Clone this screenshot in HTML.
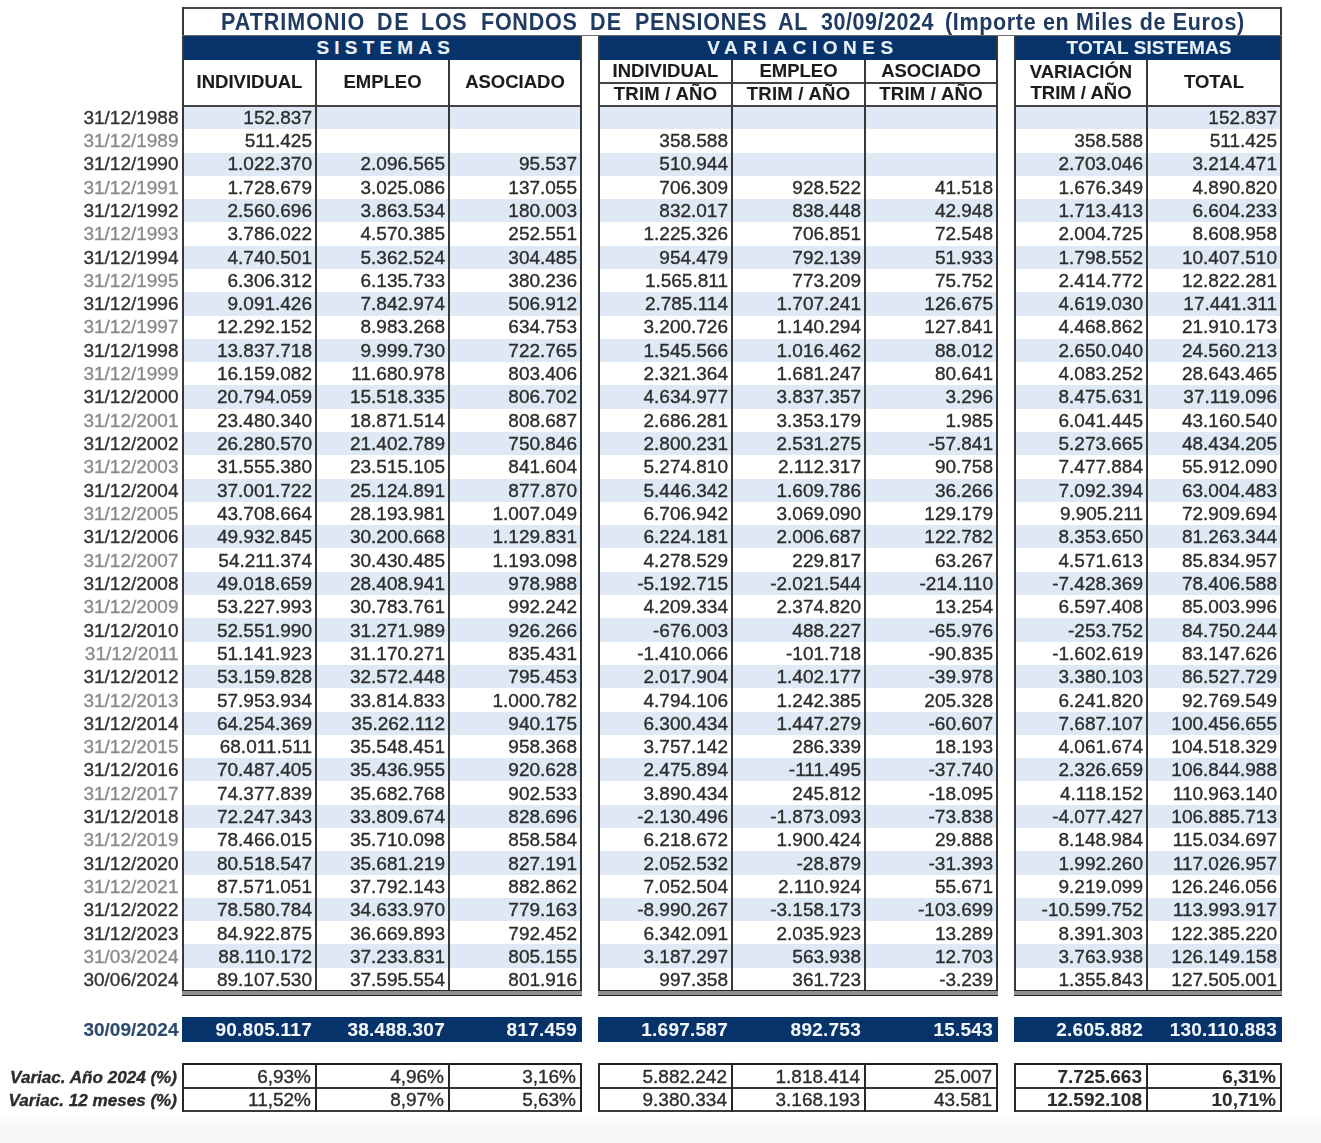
<!DOCTYPE html>
<html><head><meta charset="utf-8">
<style>
html,body{margin:0;padding:0;background:#fff;}
body{width:1321px;height:1143px;position:relative;overflow:hidden;font-family:"Liberation Sans",sans-serif;}
#w{position:absolute;left:0;top:0;width:1321px;height:1143px;filter:blur(0.4px);}
#w>div{position:absolute;box-sizing:border-box;-webkit-text-stroke:0.35px currentColor;}
</style></head><body><div id="w">
<div style="left:0px;top:1113px;width:1321px;height:30px;background:linear-gradient(rgba(247,247,247,0),#f7f7f7 45%)"></div>
<div style="left:182px;top:106.0px;width:400px;height:23.29px;background:#dee9f5"></div>
<div style="left:598px;top:106.0px;width:400px;height:23.29px;background:#dee9f5"></div>
<div style="left:1014px;top:106.0px;width:268px;height:23.29px;background:#dee9f5"></div>
<div style="left:182px;top:152.58px;width:400px;height:23.29px;background:#dee9f5"></div>
<div style="left:598px;top:152.58px;width:400px;height:23.29px;background:#dee9f5"></div>
<div style="left:1014px;top:152.58px;width:268px;height:23.29px;background:#dee9f5"></div>
<div style="left:182px;top:199.16px;width:400px;height:23.29px;background:#dee9f5"></div>
<div style="left:598px;top:199.16px;width:400px;height:23.29px;background:#dee9f5"></div>
<div style="left:1014px;top:199.16px;width:268px;height:23.29px;background:#dee9f5"></div>
<div style="left:182px;top:245.74px;width:400px;height:23.29px;background:#dee9f5"></div>
<div style="left:598px;top:245.74px;width:400px;height:23.29px;background:#dee9f5"></div>
<div style="left:1014px;top:245.74px;width:268px;height:23.29px;background:#dee9f5"></div>
<div style="left:182px;top:292.32px;width:400px;height:23.29px;background:#dee9f5"></div>
<div style="left:598px;top:292.32px;width:400px;height:23.29px;background:#dee9f5"></div>
<div style="left:1014px;top:292.32px;width:268px;height:23.29px;background:#dee9f5"></div>
<div style="left:182px;top:338.89px;width:400px;height:23.29px;background:#dee9f5"></div>
<div style="left:598px;top:338.89px;width:400px;height:23.29px;background:#dee9f5"></div>
<div style="left:1014px;top:338.89px;width:268px;height:23.29px;background:#dee9f5"></div>
<div style="left:182px;top:385.47px;width:400px;height:23.29px;background:#dee9f5"></div>
<div style="left:598px;top:385.47px;width:400px;height:23.29px;background:#dee9f5"></div>
<div style="left:1014px;top:385.47px;width:268px;height:23.29px;background:#dee9f5"></div>
<div style="left:182px;top:432.05px;width:400px;height:23.29px;background:#dee9f5"></div>
<div style="left:598px;top:432.05px;width:400px;height:23.29px;background:#dee9f5"></div>
<div style="left:1014px;top:432.05px;width:268px;height:23.29px;background:#dee9f5"></div>
<div style="left:182px;top:478.63px;width:400px;height:23.29px;background:#dee9f5"></div>
<div style="left:598px;top:478.63px;width:400px;height:23.29px;background:#dee9f5"></div>
<div style="left:1014px;top:478.63px;width:268px;height:23.29px;background:#dee9f5"></div>
<div style="left:182px;top:525.21px;width:400px;height:23.29px;background:#dee9f5"></div>
<div style="left:598px;top:525.21px;width:400px;height:23.29px;background:#dee9f5"></div>
<div style="left:1014px;top:525.21px;width:268px;height:23.29px;background:#dee9f5"></div>
<div style="left:182px;top:571.79px;width:400px;height:23.29px;background:#dee9f5"></div>
<div style="left:598px;top:571.79px;width:400px;height:23.29px;background:#dee9f5"></div>
<div style="left:1014px;top:571.79px;width:268px;height:23.29px;background:#dee9f5"></div>
<div style="left:182px;top:618.37px;width:400px;height:23.29px;background:#dee9f5"></div>
<div style="left:598px;top:618.37px;width:400px;height:23.29px;background:#dee9f5"></div>
<div style="left:1014px;top:618.37px;width:268px;height:23.29px;background:#dee9f5"></div>
<div style="left:182px;top:664.95px;width:400px;height:23.29px;background:#dee9f5"></div>
<div style="left:598px;top:664.95px;width:400px;height:23.29px;background:#dee9f5"></div>
<div style="left:1014px;top:664.95px;width:268px;height:23.29px;background:#dee9f5"></div>
<div style="left:182px;top:711.53px;width:400px;height:23.29px;background:#dee9f5"></div>
<div style="left:598px;top:711.53px;width:400px;height:23.29px;background:#dee9f5"></div>
<div style="left:1014px;top:711.53px;width:268px;height:23.29px;background:#dee9f5"></div>
<div style="left:182px;top:758.11px;width:400px;height:23.29px;background:#dee9f5"></div>
<div style="left:598px;top:758.11px;width:400px;height:23.29px;background:#dee9f5"></div>
<div style="left:1014px;top:758.11px;width:268px;height:23.29px;background:#dee9f5"></div>
<div style="left:182px;top:804.68px;width:400px;height:23.29px;background:#dee9f5"></div>
<div style="left:598px;top:804.68px;width:400px;height:23.29px;background:#dee9f5"></div>
<div style="left:1014px;top:804.68px;width:268px;height:23.29px;background:#dee9f5"></div>
<div style="left:182px;top:851.26px;width:400px;height:23.29px;background:#dee9f5"></div>
<div style="left:598px;top:851.26px;width:400px;height:23.29px;background:#dee9f5"></div>
<div style="left:1014px;top:851.26px;width:268px;height:23.29px;background:#dee9f5"></div>
<div style="left:182px;top:897.84px;width:400px;height:23.29px;background:#dee9f5"></div>
<div style="left:598px;top:897.84px;width:400px;height:23.29px;background:#dee9f5"></div>
<div style="left:1014px;top:897.84px;width:268px;height:23.29px;background:#dee9f5"></div>
<div style="left:182px;top:944.42px;width:400px;height:23.29px;background:#dee9f5"></div>
<div style="left:598px;top:944.42px;width:400px;height:23.29px;background:#dee9f5"></div>
<div style="left:1014px;top:944.42px;width:268px;height:23.29px;background:#dee9f5"></div>
<div style="left:182px;top:7px;width:1100px;height:2px;background:#4a4a4a"></div>
<div style="left:182px;top:7px;width:2px;height:29px;background:#383838"></div>
<div style="left:1280px;top:7px;width:2px;height:29px;background:#383838"></div>
<div style="left:182px;top:35px;width:1100px;height:1px;background:#6a6a6a"></div>
<div style="left:221.2px;top:7px;width:autopx;height:29px;width:auto;font-weight:bold;font-size:23px;letter-spacing:1.070px;line-height:31px;color:#1f3b62;white-space:nowrap;transform:scaleX(0.935);transform-origin:0 0;-webkit-text-stroke:0px">PATRIMONIO</div>
<div style="left:376.5px;top:7px;width:autopx;height:29px;width:auto;font-weight:bold;font-size:23px;letter-spacing:1.711px;line-height:31px;color:#1f3b62;white-space:nowrap;transform:scaleX(0.935);transform-origin:0 0;-webkit-text-stroke:0px">DE</div>
<div style="left:421.0px;top:7px;width:autopx;height:29px;width:auto;font-weight:bold;font-size:23px;letter-spacing:0.802px;line-height:31px;color:#1f3b62;white-space:nowrap;transform:scaleX(0.935);transform-origin:0 0;-webkit-text-stroke:0px">LOS</div>
<div style="left:480.5px;top:7px;width:autopx;height:29px;width:auto;font-weight:bold;font-size:23px;letter-spacing:0.802px;line-height:31px;color:#1f3b62;white-space:nowrap;transform:scaleX(0.935);transform-origin:0 0;-webkit-text-stroke:0px">FONDOS</div>
<div style="left:590.2px;top:7px;width:autopx;height:29px;width:auto;font-weight:bold;font-size:23px;letter-spacing:1.283px;line-height:31px;color:#1f3b62;white-space:nowrap;transform:scaleX(0.935);transform-origin:0 0;-webkit-text-stroke:0px">DE</div>
<div style="left:634.5px;top:7px;width:autopx;height:29px;width:auto;font-weight:bold;font-size:23px;letter-spacing:0.802px;line-height:31px;color:#1f3b62;white-space:nowrap;transform:scaleX(0.935);transform-origin:0 0;-webkit-text-stroke:0px">PENSIONES</div>
<div style="left:778.0px;top:7px;width:autopx;height:29px;width:auto;font-weight:bold;font-size:23px;letter-spacing:0.802px;line-height:31px;color:#1f3b62;white-space:nowrap;transform:scaleX(0.935);transform-origin:0 0;-webkit-text-stroke:0px">AL</div>
<div style="left:821.0px;top:7px;width:autopx;height:29px;width:auto;font-weight:bold;font-size:23px;letter-spacing:0.588px;line-height:31px;color:#1f3b62;white-space:nowrap;transform:scaleX(0.935);transform-origin:0 0;-webkit-text-stroke:0px">30/09/2024</div>
<div style="left:945.1px;top:7px;width:autopx;height:29px;width:auto;font-weight:bold;font-size:23px;letter-spacing:0.706px;line-height:31px;color:#1f3b62;white-space:nowrap;transform:scaleX(0.935);transform-origin:0 0;-webkit-text-stroke:0px">(Importe en Miles de Euros)</div>
<div style="left:182px;top:36px;width:400px;height:24px;background:#06336a;color:#e8f0fa;-webkit-text-stroke:0.1px currentColor;text-align:center;font-weight:bold;font-size:19px;letter-spacing:5.2px;text-indent:7.7px;line-height:24px;white-space:nowrap">SISTEMAS</div>
<div style="left:598px;top:36px;width:400px;height:24px;background:#06336a;color:#e8f0fa;-webkit-text-stroke:0.1px currentColor;text-align:center;font-weight:bold;font-size:19px;letter-spacing:5.55px;text-indent:10.05px;line-height:24px;white-space:nowrap">VARIACIONES</div>
<div style="left:1014px;top:36px;width:268px;height:24px;background:#06336a;color:#e8f0fa;-webkit-text-stroke:0.1px currentColor;text-align:center;font-weight:bold;font-size:19px;letter-spacing:0.1px;text-indent:2.1px;line-height:24px;white-space:nowrap">TOTAL SISTEMAS</div>
<div style="left:183px;top:59px;width:133px;height:46px;text-align:center;font-weight:bold;font-size:18.5px;line-height:46px;color:#1c1c1c;white-space:nowrap;-webkit-text-stroke:0.1px currentColor;">INDIVIDUAL</div>
<div style="left:316px;top:59px;width:133px;height:46px;text-align:center;font-weight:bold;font-size:18.5px;line-height:46px;color:#1c1c1c;white-space:nowrap;-webkit-text-stroke:0.1px currentColor;">EMPLEO</div>
<div style="left:449px;top:59px;width:132px;height:46px;text-align:center;font-weight:bold;font-size:18.5px;line-height:46px;color:#1c1c1c;white-space:nowrap;-webkit-text-stroke:0.1px currentColor;">ASOCIADO</div>
<div style="left:599px;top:59px;width:133px;height:23px;text-align:center;font-weight:bold;font-size:18.5px;line-height:23px;color:#1c1c1c;white-space:nowrap;-webkit-text-stroke:0.1px currentColor;">INDIVIDUAL</div>
<div style="left:599px;top:82px;width:133px;height:23px;text-align:center;font-weight:bold;font-size:18.5px;line-height:23px;color:#1c1c1c;white-space:nowrap;-webkit-text-stroke:0.1px currentColor;letter-spacing:0.25px">TRIM / AÑO</div>
<div style="left:732px;top:59px;width:133px;height:23px;text-align:center;font-weight:bold;font-size:18.5px;line-height:23px;color:#1c1c1c;white-space:nowrap;-webkit-text-stroke:0.1px currentColor;">EMPLEO</div>
<div style="left:732px;top:82px;width:133px;height:23px;text-align:center;font-weight:bold;font-size:18.5px;line-height:23px;color:#1c1c1c;white-space:nowrap;-webkit-text-stroke:0.1px currentColor;letter-spacing:0.25px">TRIM / AÑO</div>
<div style="left:865px;top:59px;width:132px;height:23px;text-align:center;font-weight:bold;font-size:18.5px;line-height:23px;color:#1c1c1c;white-space:nowrap;-webkit-text-stroke:0.1px currentColor;">ASOCIADO</div>
<div style="left:865px;top:82px;width:132px;height:23px;text-align:center;font-weight:bold;font-size:18.5px;line-height:23px;color:#1c1c1c;white-space:nowrap;-webkit-text-stroke:0.1px currentColor;letter-spacing:0.25px">TRIM / AÑO</div>
<div style="left:1015px;top:59px;width:132px;height:46px;text-align:center;font-weight:bold;font-size:18.5px;line-height:21px;color:#1c1c1c;white-space:nowrap;-webkit-text-stroke:0.1px currentColor;padding-top:2px">VARIACIÓN<br>TRIM / AÑO</div>
<div style="left:1147px;top:59px;width:134px;height:46px;text-align:center;font-weight:bold;font-size:18.5px;line-height:46px;color:#1c1c1c;white-space:nowrap;-webkit-text-stroke:0.1px currentColor;">TOTAL</div>
<div style="left:182px;top:105px;width:400px;height:2px;background:#444"></div>
<div style="left:598px;top:105px;width:400px;height:2px;background:#444"></div>
<div style="left:1014px;top:105px;width:268px;height:2px;background:#444"></div>
<div style="left:598px;top:82px;width:400px;height:2px;background:#444"></div>
<div style="left:182px;top:36px;width:2px;height:960px;background:#383838"></div>
<div style="left:315px;top:60px;width:2px;height:936px;background:#383838"></div>
<div style="left:448px;top:60px;width:2px;height:936px;background:#383838"></div>
<div style="left:580px;top:36px;width:2px;height:960px;background:#383838"></div>
<div style="left:598px;top:36px;width:2px;height:960px;background:#383838"></div>
<div style="left:731px;top:60px;width:2px;height:936px;background:#383838"></div>
<div style="left:864px;top:60px;width:2px;height:936px;background:#383838"></div>
<div style="left:996px;top:36px;width:2px;height:960px;background:#383838"></div>
<div style="left:1014px;top:36px;width:2px;height:960px;background:#383838"></div>
<div style="left:1146px;top:60px;width:2px;height:936px;background:#383838"></div>
<div style="left:1280px;top:36px;width:2px;height:960px;background:#383838"></div>
<div style="left:182px;top:990px;width:400px;height:6px;background:#8f8f8f;border-top:1px solid #262626;border-bottom:1px solid #262626"></div>
<div style="left:598px;top:990px;width:400px;height:6px;background:#8f8f8f;border-top:1px solid #262626;border-bottom:1px solid #262626"></div>
<div style="left:1014px;top:990px;width:268px;height:6px;background:#8f8f8f;border-top:1px solid #262626;border-bottom:1px solid #262626"></div>
<div style="left:0px;top:105.65px;width:178.5px;height:23.29px;text-align:right;font-size:19px;line-height:23.29px;color:#333333;white-space:nowrap">31/12/1988</div>
<div style="left:183px;top:105.65px;width:129px;height:23.29px;text-align:right;font-size:19px;line-height:23.29px;color:#2c2c2c;white-space:nowrap">152.837</div>
<div style="left:1147px;top:105.65px;width:130px;height:23.29px;text-align:right;font-size:19px;line-height:23.29px;color:#2c2c2c;white-space:nowrap">152.837</div>
<div style="left:0px;top:128.96px;width:178.5px;height:23.29px;text-align:right;font-size:19px;line-height:23.29px;color:#8a8a8a;white-space:nowrap">31/12/1989</div>
<div style="left:183px;top:128.96px;width:129px;height:23.29px;text-align:right;font-size:19px;line-height:23.29px;color:#2c2c2c;white-space:nowrap">511.425</div>
<div style="left:599px;top:128.96px;width:129px;height:23.29px;text-align:right;font-size:19px;line-height:23.29px;color:#2c2c2c;white-space:nowrap">358.588</div>
<div style="left:1015px;top:128.96px;width:128px;height:23.29px;text-align:right;font-size:19px;line-height:23.29px;color:#2c2c2c;white-space:nowrap">358.588</div>
<div style="left:1147px;top:128.96px;width:130px;height:23.29px;text-align:right;font-size:19px;line-height:23.29px;color:#2c2c2c;white-space:nowrap">511.425</div>
<div style="left:0px;top:152.28px;width:178.5px;height:23.29px;text-align:right;font-size:19px;line-height:23.29px;color:#333333;white-space:nowrap">31/12/1990</div>
<div style="left:183px;top:152.28px;width:129px;height:23.29px;text-align:right;font-size:19px;line-height:23.29px;color:#2c2c2c;white-space:nowrap">1.022.370</div>
<div style="left:316px;top:152.28px;width:129px;height:23.29px;text-align:right;font-size:19px;line-height:23.29px;color:#2c2c2c;white-space:nowrap">2.096.565</div>
<div style="left:449px;top:152.28px;width:128px;height:23.29px;text-align:right;font-size:19px;line-height:23.29px;color:#2c2c2c;white-space:nowrap">95.537</div>
<div style="left:599px;top:152.28px;width:129px;height:23.29px;text-align:right;font-size:19px;line-height:23.29px;color:#2c2c2c;white-space:nowrap">510.944</div>
<div style="left:1015px;top:152.28px;width:128px;height:23.29px;text-align:right;font-size:19px;line-height:23.29px;color:#2c2c2c;white-space:nowrap">2.703.046</div>
<div style="left:1147px;top:152.28px;width:130px;height:23.29px;text-align:right;font-size:19px;line-height:23.29px;color:#2c2c2c;white-space:nowrap">3.214.471</div>
<div style="left:0px;top:175.59px;width:178.5px;height:23.29px;text-align:right;font-size:19px;line-height:23.29px;color:#8a8a8a;white-space:nowrap">31/12/1991</div>
<div style="left:183px;top:175.59px;width:129px;height:23.29px;text-align:right;font-size:19px;line-height:23.29px;color:#2c2c2c;white-space:nowrap">1.728.679</div>
<div style="left:316px;top:175.59px;width:129px;height:23.29px;text-align:right;font-size:19px;line-height:23.29px;color:#2c2c2c;white-space:nowrap">3.025.086</div>
<div style="left:449px;top:175.59px;width:128px;height:23.29px;text-align:right;font-size:19px;line-height:23.29px;color:#2c2c2c;white-space:nowrap">137.055</div>
<div style="left:599px;top:175.59px;width:129px;height:23.29px;text-align:right;font-size:19px;line-height:23.29px;color:#2c2c2c;white-space:nowrap">706.309</div>
<div style="left:732px;top:175.59px;width:129px;height:23.29px;text-align:right;font-size:19px;line-height:23.29px;color:#2c2c2c;white-space:nowrap">928.522</div>
<div style="left:865px;top:175.59px;width:128px;height:23.29px;text-align:right;font-size:19px;line-height:23.29px;color:#2c2c2c;white-space:nowrap">41.518</div>
<div style="left:1015px;top:175.59px;width:128px;height:23.29px;text-align:right;font-size:19px;line-height:23.29px;color:#2c2c2c;white-space:nowrap">1.676.349</div>
<div style="left:1147px;top:175.59px;width:130px;height:23.29px;text-align:right;font-size:19px;line-height:23.29px;color:#2c2c2c;white-space:nowrap">4.890.820</div>
<div style="left:0px;top:198.91px;width:178.5px;height:23.29px;text-align:right;font-size:19px;line-height:23.29px;color:#333333;white-space:nowrap">31/12/1992</div>
<div style="left:183px;top:198.91px;width:129px;height:23.29px;text-align:right;font-size:19px;line-height:23.29px;color:#2c2c2c;white-space:nowrap">2.560.696</div>
<div style="left:316px;top:198.91px;width:129px;height:23.29px;text-align:right;font-size:19px;line-height:23.29px;color:#2c2c2c;white-space:nowrap">3.863.534</div>
<div style="left:449px;top:198.91px;width:128px;height:23.29px;text-align:right;font-size:19px;line-height:23.29px;color:#2c2c2c;white-space:nowrap">180.003</div>
<div style="left:599px;top:198.91px;width:129px;height:23.29px;text-align:right;font-size:19px;line-height:23.29px;color:#2c2c2c;white-space:nowrap">832.017</div>
<div style="left:732px;top:198.91px;width:129px;height:23.29px;text-align:right;font-size:19px;line-height:23.29px;color:#2c2c2c;white-space:nowrap">838.448</div>
<div style="left:865px;top:198.91px;width:128px;height:23.29px;text-align:right;font-size:19px;line-height:23.29px;color:#2c2c2c;white-space:nowrap">42.948</div>
<div style="left:1015px;top:198.91px;width:128px;height:23.29px;text-align:right;font-size:19px;line-height:23.29px;color:#2c2c2c;white-space:nowrap">1.713.413</div>
<div style="left:1147px;top:198.91px;width:130px;height:23.29px;text-align:right;font-size:19px;line-height:23.29px;color:#2c2c2c;white-space:nowrap">6.604.233</div>
<div style="left:0px;top:222.22px;width:178.5px;height:23.29px;text-align:right;font-size:19px;line-height:23.29px;color:#8a8a8a;white-space:nowrap">31/12/1993</div>
<div style="left:183px;top:222.22px;width:129px;height:23.29px;text-align:right;font-size:19px;line-height:23.29px;color:#2c2c2c;white-space:nowrap">3.786.022</div>
<div style="left:316px;top:222.22px;width:129px;height:23.29px;text-align:right;font-size:19px;line-height:23.29px;color:#2c2c2c;white-space:nowrap">4.570.385</div>
<div style="left:449px;top:222.22px;width:128px;height:23.29px;text-align:right;font-size:19px;line-height:23.29px;color:#2c2c2c;white-space:nowrap">252.551</div>
<div style="left:599px;top:222.22px;width:129px;height:23.29px;text-align:right;font-size:19px;line-height:23.29px;color:#2c2c2c;white-space:nowrap">1.225.326</div>
<div style="left:732px;top:222.22px;width:129px;height:23.29px;text-align:right;font-size:19px;line-height:23.29px;color:#2c2c2c;white-space:nowrap">706.851</div>
<div style="left:865px;top:222.22px;width:128px;height:23.29px;text-align:right;font-size:19px;line-height:23.29px;color:#2c2c2c;white-space:nowrap">72.548</div>
<div style="left:1015px;top:222.22px;width:128px;height:23.29px;text-align:right;font-size:19px;line-height:23.29px;color:#2c2c2c;white-space:nowrap">2.004.725</div>
<div style="left:1147px;top:222.22px;width:130px;height:23.29px;text-align:right;font-size:19px;line-height:23.29px;color:#2c2c2c;white-space:nowrap">8.608.958</div>
<div style="left:0px;top:245.54px;width:178.5px;height:23.29px;text-align:right;font-size:19px;line-height:23.29px;color:#333333;white-space:nowrap">31/12/1994</div>
<div style="left:183px;top:245.54px;width:129px;height:23.29px;text-align:right;font-size:19px;line-height:23.29px;color:#2c2c2c;white-space:nowrap">4.740.501</div>
<div style="left:316px;top:245.54px;width:129px;height:23.29px;text-align:right;font-size:19px;line-height:23.29px;color:#2c2c2c;white-space:nowrap">5.362.524</div>
<div style="left:449px;top:245.54px;width:128px;height:23.29px;text-align:right;font-size:19px;line-height:23.29px;color:#2c2c2c;white-space:nowrap">304.485</div>
<div style="left:599px;top:245.54px;width:129px;height:23.29px;text-align:right;font-size:19px;line-height:23.29px;color:#2c2c2c;white-space:nowrap">954.479</div>
<div style="left:732px;top:245.54px;width:129px;height:23.29px;text-align:right;font-size:19px;line-height:23.29px;color:#2c2c2c;white-space:nowrap">792.139</div>
<div style="left:865px;top:245.54px;width:128px;height:23.29px;text-align:right;font-size:19px;line-height:23.29px;color:#2c2c2c;white-space:nowrap">51.933</div>
<div style="left:1015px;top:245.54px;width:128px;height:23.29px;text-align:right;font-size:19px;line-height:23.29px;color:#2c2c2c;white-space:nowrap">1.798.552</div>
<div style="left:1147px;top:245.54px;width:130px;height:23.29px;text-align:right;font-size:19px;line-height:23.29px;color:#2c2c2c;white-space:nowrap">10.407.510</div>
<div style="left:0px;top:268.85px;width:178.5px;height:23.29px;text-align:right;font-size:19px;line-height:23.29px;color:#8a8a8a;white-space:nowrap">31/12/1995</div>
<div style="left:183px;top:268.85px;width:129px;height:23.29px;text-align:right;font-size:19px;line-height:23.29px;color:#2c2c2c;white-space:nowrap">6.306.312</div>
<div style="left:316px;top:268.85px;width:129px;height:23.29px;text-align:right;font-size:19px;line-height:23.29px;color:#2c2c2c;white-space:nowrap">6.135.733</div>
<div style="left:449px;top:268.85px;width:128px;height:23.29px;text-align:right;font-size:19px;line-height:23.29px;color:#2c2c2c;white-space:nowrap">380.236</div>
<div style="left:599px;top:268.85px;width:129px;height:23.29px;text-align:right;font-size:19px;line-height:23.29px;color:#2c2c2c;white-space:nowrap">1.565.811</div>
<div style="left:732px;top:268.85px;width:129px;height:23.29px;text-align:right;font-size:19px;line-height:23.29px;color:#2c2c2c;white-space:nowrap">773.209</div>
<div style="left:865px;top:268.85px;width:128px;height:23.29px;text-align:right;font-size:19px;line-height:23.29px;color:#2c2c2c;white-space:nowrap">75.752</div>
<div style="left:1015px;top:268.85px;width:128px;height:23.29px;text-align:right;font-size:19px;line-height:23.29px;color:#2c2c2c;white-space:nowrap">2.414.772</div>
<div style="left:1147px;top:268.85px;width:130px;height:23.29px;text-align:right;font-size:19px;line-height:23.29px;color:#2c2c2c;white-space:nowrap">12.822.281</div>
<div style="left:0px;top:292.17px;width:178.5px;height:23.29px;text-align:right;font-size:19px;line-height:23.29px;color:#333333;white-space:nowrap">31/12/1996</div>
<div style="left:183px;top:292.17px;width:129px;height:23.29px;text-align:right;font-size:19px;line-height:23.29px;color:#2c2c2c;white-space:nowrap">9.091.426</div>
<div style="left:316px;top:292.17px;width:129px;height:23.29px;text-align:right;font-size:19px;line-height:23.29px;color:#2c2c2c;white-space:nowrap">7.842.974</div>
<div style="left:449px;top:292.17px;width:128px;height:23.29px;text-align:right;font-size:19px;line-height:23.29px;color:#2c2c2c;white-space:nowrap">506.912</div>
<div style="left:599px;top:292.17px;width:129px;height:23.29px;text-align:right;font-size:19px;line-height:23.29px;color:#2c2c2c;white-space:nowrap">2.785.114</div>
<div style="left:732px;top:292.17px;width:129px;height:23.29px;text-align:right;font-size:19px;line-height:23.29px;color:#2c2c2c;white-space:nowrap">1.707.241</div>
<div style="left:865px;top:292.17px;width:128px;height:23.29px;text-align:right;font-size:19px;line-height:23.29px;color:#2c2c2c;white-space:nowrap">126.675</div>
<div style="left:1015px;top:292.17px;width:128px;height:23.29px;text-align:right;font-size:19px;line-height:23.29px;color:#2c2c2c;white-space:nowrap">4.619.030</div>
<div style="left:1147px;top:292.17px;width:130px;height:23.29px;text-align:right;font-size:19px;line-height:23.29px;color:#2c2c2c;white-space:nowrap">17.441.311</div>
<div style="left:0px;top:315.48px;width:178.5px;height:23.29px;text-align:right;font-size:19px;line-height:23.29px;color:#8a8a8a;white-space:nowrap">31/12/1997</div>
<div style="left:183px;top:315.48px;width:129px;height:23.29px;text-align:right;font-size:19px;line-height:23.29px;color:#2c2c2c;white-space:nowrap">12.292.152</div>
<div style="left:316px;top:315.48px;width:129px;height:23.29px;text-align:right;font-size:19px;line-height:23.29px;color:#2c2c2c;white-space:nowrap">8.983.268</div>
<div style="left:449px;top:315.48px;width:128px;height:23.29px;text-align:right;font-size:19px;line-height:23.29px;color:#2c2c2c;white-space:nowrap">634.753</div>
<div style="left:599px;top:315.48px;width:129px;height:23.29px;text-align:right;font-size:19px;line-height:23.29px;color:#2c2c2c;white-space:nowrap">3.200.726</div>
<div style="left:732px;top:315.48px;width:129px;height:23.29px;text-align:right;font-size:19px;line-height:23.29px;color:#2c2c2c;white-space:nowrap">1.140.294</div>
<div style="left:865px;top:315.48px;width:128px;height:23.29px;text-align:right;font-size:19px;line-height:23.29px;color:#2c2c2c;white-space:nowrap">127.841</div>
<div style="left:1015px;top:315.48px;width:128px;height:23.29px;text-align:right;font-size:19px;line-height:23.29px;color:#2c2c2c;white-space:nowrap">4.468.862</div>
<div style="left:1147px;top:315.48px;width:130px;height:23.29px;text-align:right;font-size:19px;line-height:23.29px;color:#2c2c2c;white-space:nowrap">21.910.173</div>
<div style="left:0px;top:338.79px;width:178.5px;height:23.29px;text-align:right;font-size:19px;line-height:23.29px;color:#333333;white-space:nowrap">31/12/1998</div>
<div style="left:183px;top:338.79px;width:129px;height:23.29px;text-align:right;font-size:19px;line-height:23.29px;color:#2c2c2c;white-space:nowrap">13.837.718</div>
<div style="left:316px;top:338.79px;width:129px;height:23.29px;text-align:right;font-size:19px;line-height:23.29px;color:#2c2c2c;white-space:nowrap">9.999.730</div>
<div style="left:449px;top:338.79px;width:128px;height:23.29px;text-align:right;font-size:19px;line-height:23.29px;color:#2c2c2c;white-space:nowrap">722.765</div>
<div style="left:599px;top:338.79px;width:129px;height:23.29px;text-align:right;font-size:19px;line-height:23.29px;color:#2c2c2c;white-space:nowrap">1.545.566</div>
<div style="left:732px;top:338.79px;width:129px;height:23.29px;text-align:right;font-size:19px;line-height:23.29px;color:#2c2c2c;white-space:nowrap">1.016.462</div>
<div style="left:865px;top:338.79px;width:128px;height:23.29px;text-align:right;font-size:19px;line-height:23.29px;color:#2c2c2c;white-space:nowrap">88.012</div>
<div style="left:1015px;top:338.79px;width:128px;height:23.29px;text-align:right;font-size:19px;line-height:23.29px;color:#2c2c2c;white-space:nowrap">2.650.040</div>
<div style="left:1147px;top:338.79px;width:130px;height:23.29px;text-align:right;font-size:19px;line-height:23.29px;color:#2c2c2c;white-space:nowrap">24.560.213</div>
<div style="left:0px;top:362.11px;width:178.5px;height:23.29px;text-align:right;font-size:19px;line-height:23.29px;color:#8a8a8a;white-space:nowrap">31/12/1999</div>
<div style="left:183px;top:362.11px;width:129px;height:23.29px;text-align:right;font-size:19px;line-height:23.29px;color:#2c2c2c;white-space:nowrap">16.159.082</div>
<div style="left:316px;top:362.11px;width:129px;height:23.29px;text-align:right;font-size:19px;line-height:23.29px;color:#2c2c2c;white-space:nowrap">11.680.978</div>
<div style="left:449px;top:362.11px;width:128px;height:23.29px;text-align:right;font-size:19px;line-height:23.29px;color:#2c2c2c;white-space:nowrap">803.406</div>
<div style="left:599px;top:362.11px;width:129px;height:23.29px;text-align:right;font-size:19px;line-height:23.29px;color:#2c2c2c;white-space:nowrap">2.321.364</div>
<div style="left:732px;top:362.11px;width:129px;height:23.29px;text-align:right;font-size:19px;line-height:23.29px;color:#2c2c2c;white-space:nowrap">1.681.247</div>
<div style="left:865px;top:362.11px;width:128px;height:23.29px;text-align:right;font-size:19px;line-height:23.29px;color:#2c2c2c;white-space:nowrap">80.641</div>
<div style="left:1015px;top:362.11px;width:128px;height:23.29px;text-align:right;font-size:19px;line-height:23.29px;color:#2c2c2c;white-space:nowrap">4.083.252</div>
<div style="left:1147px;top:362.11px;width:130px;height:23.29px;text-align:right;font-size:19px;line-height:23.29px;color:#2c2c2c;white-space:nowrap">28.643.465</div>
<div style="left:0px;top:385.42px;width:178.5px;height:23.29px;text-align:right;font-size:19px;line-height:23.29px;color:#333333;white-space:nowrap">31/12/2000</div>
<div style="left:183px;top:385.42px;width:129px;height:23.29px;text-align:right;font-size:19px;line-height:23.29px;color:#2c2c2c;white-space:nowrap">20.794.059</div>
<div style="left:316px;top:385.42px;width:129px;height:23.29px;text-align:right;font-size:19px;line-height:23.29px;color:#2c2c2c;white-space:nowrap">15.518.335</div>
<div style="left:449px;top:385.42px;width:128px;height:23.29px;text-align:right;font-size:19px;line-height:23.29px;color:#2c2c2c;white-space:nowrap">806.702</div>
<div style="left:599px;top:385.42px;width:129px;height:23.29px;text-align:right;font-size:19px;line-height:23.29px;color:#2c2c2c;white-space:nowrap">4.634.977</div>
<div style="left:732px;top:385.42px;width:129px;height:23.29px;text-align:right;font-size:19px;line-height:23.29px;color:#2c2c2c;white-space:nowrap">3.837.357</div>
<div style="left:865px;top:385.42px;width:128px;height:23.29px;text-align:right;font-size:19px;line-height:23.29px;color:#2c2c2c;white-space:nowrap">3.296</div>
<div style="left:1015px;top:385.42px;width:128px;height:23.29px;text-align:right;font-size:19px;line-height:23.29px;color:#2c2c2c;white-space:nowrap">8.475.631</div>
<div style="left:1147px;top:385.42px;width:130px;height:23.29px;text-align:right;font-size:19px;line-height:23.29px;color:#2c2c2c;white-space:nowrap">37.119.096</div>
<div style="left:0px;top:408.74px;width:178.5px;height:23.29px;text-align:right;font-size:19px;line-height:23.29px;color:#8a8a8a;white-space:nowrap">31/12/2001</div>
<div style="left:183px;top:408.74px;width:129px;height:23.29px;text-align:right;font-size:19px;line-height:23.29px;color:#2c2c2c;white-space:nowrap">23.480.340</div>
<div style="left:316px;top:408.74px;width:129px;height:23.29px;text-align:right;font-size:19px;line-height:23.29px;color:#2c2c2c;white-space:nowrap">18.871.514</div>
<div style="left:449px;top:408.74px;width:128px;height:23.29px;text-align:right;font-size:19px;line-height:23.29px;color:#2c2c2c;white-space:nowrap">808.687</div>
<div style="left:599px;top:408.74px;width:129px;height:23.29px;text-align:right;font-size:19px;line-height:23.29px;color:#2c2c2c;white-space:nowrap">2.686.281</div>
<div style="left:732px;top:408.74px;width:129px;height:23.29px;text-align:right;font-size:19px;line-height:23.29px;color:#2c2c2c;white-space:nowrap">3.353.179</div>
<div style="left:865px;top:408.74px;width:128px;height:23.29px;text-align:right;font-size:19px;line-height:23.29px;color:#2c2c2c;white-space:nowrap">1.985</div>
<div style="left:1015px;top:408.74px;width:128px;height:23.29px;text-align:right;font-size:19px;line-height:23.29px;color:#2c2c2c;white-space:nowrap">6.041.445</div>
<div style="left:1147px;top:408.74px;width:130px;height:23.29px;text-align:right;font-size:19px;line-height:23.29px;color:#2c2c2c;white-space:nowrap">43.160.540</div>
<div style="left:0px;top:432.05px;width:178.5px;height:23.29px;text-align:right;font-size:19px;line-height:23.29px;color:#333333;white-space:nowrap">31/12/2002</div>
<div style="left:183px;top:432.05px;width:129px;height:23.29px;text-align:right;font-size:19px;line-height:23.29px;color:#2c2c2c;white-space:nowrap">26.280.570</div>
<div style="left:316px;top:432.05px;width:129px;height:23.29px;text-align:right;font-size:19px;line-height:23.29px;color:#2c2c2c;white-space:nowrap">21.402.789</div>
<div style="left:449px;top:432.05px;width:128px;height:23.29px;text-align:right;font-size:19px;line-height:23.29px;color:#2c2c2c;white-space:nowrap">750.846</div>
<div style="left:599px;top:432.05px;width:129px;height:23.29px;text-align:right;font-size:19px;line-height:23.29px;color:#2c2c2c;white-space:nowrap">2.800.231</div>
<div style="left:732px;top:432.05px;width:129px;height:23.29px;text-align:right;font-size:19px;line-height:23.29px;color:#2c2c2c;white-space:nowrap">2.531.275</div>
<div style="left:865px;top:432.05px;width:128px;height:23.29px;text-align:right;font-size:19px;line-height:23.29px;color:#2c2c2c;white-space:nowrap">-57.841</div>
<div style="left:1015px;top:432.05px;width:128px;height:23.29px;text-align:right;font-size:19px;line-height:23.29px;color:#2c2c2c;white-space:nowrap">5.273.665</div>
<div style="left:1147px;top:432.05px;width:130px;height:23.29px;text-align:right;font-size:19px;line-height:23.29px;color:#2c2c2c;white-space:nowrap">48.434.205</div>
<div style="left:0px;top:455.37px;width:178.5px;height:23.29px;text-align:right;font-size:19px;line-height:23.29px;color:#8a8a8a;white-space:nowrap">31/12/2003</div>
<div style="left:183px;top:455.37px;width:129px;height:23.29px;text-align:right;font-size:19px;line-height:23.29px;color:#2c2c2c;white-space:nowrap">31.555.380</div>
<div style="left:316px;top:455.37px;width:129px;height:23.29px;text-align:right;font-size:19px;line-height:23.29px;color:#2c2c2c;white-space:nowrap">23.515.105</div>
<div style="left:449px;top:455.37px;width:128px;height:23.29px;text-align:right;font-size:19px;line-height:23.29px;color:#2c2c2c;white-space:nowrap">841.604</div>
<div style="left:599px;top:455.37px;width:129px;height:23.29px;text-align:right;font-size:19px;line-height:23.29px;color:#2c2c2c;white-space:nowrap">5.274.810</div>
<div style="left:732px;top:455.37px;width:129px;height:23.29px;text-align:right;font-size:19px;line-height:23.29px;color:#2c2c2c;white-space:nowrap">2.112.317</div>
<div style="left:865px;top:455.37px;width:128px;height:23.29px;text-align:right;font-size:19px;line-height:23.29px;color:#2c2c2c;white-space:nowrap">90.758</div>
<div style="left:1015px;top:455.37px;width:128px;height:23.29px;text-align:right;font-size:19px;line-height:23.29px;color:#2c2c2c;white-space:nowrap">7.477.884</div>
<div style="left:1147px;top:455.37px;width:130px;height:23.29px;text-align:right;font-size:19px;line-height:23.29px;color:#2c2c2c;white-space:nowrap">55.912.090</div>
<div style="left:0px;top:478.68px;width:178.5px;height:23.29px;text-align:right;font-size:19px;line-height:23.29px;color:#333333;white-space:nowrap">31/12/2004</div>
<div style="left:183px;top:478.68px;width:129px;height:23.29px;text-align:right;font-size:19px;line-height:23.29px;color:#2c2c2c;white-space:nowrap">37.001.722</div>
<div style="left:316px;top:478.68px;width:129px;height:23.29px;text-align:right;font-size:19px;line-height:23.29px;color:#2c2c2c;white-space:nowrap">25.124.891</div>
<div style="left:449px;top:478.68px;width:128px;height:23.29px;text-align:right;font-size:19px;line-height:23.29px;color:#2c2c2c;white-space:nowrap">877.870</div>
<div style="left:599px;top:478.68px;width:129px;height:23.29px;text-align:right;font-size:19px;line-height:23.29px;color:#2c2c2c;white-space:nowrap">5.446.342</div>
<div style="left:732px;top:478.68px;width:129px;height:23.29px;text-align:right;font-size:19px;line-height:23.29px;color:#2c2c2c;white-space:nowrap">1.609.786</div>
<div style="left:865px;top:478.68px;width:128px;height:23.29px;text-align:right;font-size:19px;line-height:23.29px;color:#2c2c2c;white-space:nowrap">36.266</div>
<div style="left:1015px;top:478.68px;width:128px;height:23.29px;text-align:right;font-size:19px;line-height:23.29px;color:#2c2c2c;white-space:nowrap">7.092.394</div>
<div style="left:1147px;top:478.68px;width:130px;height:23.29px;text-align:right;font-size:19px;line-height:23.29px;color:#2c2c2c;white-space:nowrap">63.004.483</div>
<div style="left:0px;top:502.0px;width:178.5px;height:23.29px;text-align:right;font-size:19px;line-height:23.29px;color:#8a8a8a;white-space:nowrap">31/12/2005</div>
<div style="left:183px;top:502.0px;width:129px;height:23.29px;text-align:right;font-size:19px;line-height:23.29px;color:#2c2c2c;white-space:nowrap">43.708.664</div>
<div style="left:316px;top:502.0px;width:129px;height:23.29px;text-align:right;font-size:19px;line-height:23.29px;color:#2c2c2c;white-space:nowrap">28.193.981</div>
<div style="left:449px;top:502.0px;width:128px;height:23.29px;text-align:right;font-size:19px;line-height:23.29px;color:#2c2c2c;white-space:nowrap">1.007.049</div>
<div style="left:599px;top:502.0px;width:129px;height:23.29px;text-align:right;font-size:19px;line-height:23.29px;color:#2c2c2c;white-space:nowrap">6.706.942</div>
<div style="left:732px;top:502.0px;width:129px;height:23.29px;text-align:right;font-size:19px;line-height:23.29px;color:#2c2c2c;white-space:nowrap">3.069.090</div>
<div style="left:865px;top:502.0px;width:128px;height:23.29px;text-align:right;font-size:19px;line-height:23.29px;color:#2c2c2c;white-space:nowrap">129.179</div>
<div style="left:1015px;top:502.0px;width:128px;height:23.29px;text-align:right;font-size:19px;line-height:23.29px;color:#2c2c2c;white-space:nowrap">9.905.211</div>
<div style="left:1147px;top:502.0px;width:130px;height:23.29px;text-align:right;font-size:19px;line-height:23.29px;color:#2c2c2c;white-space:nowrap">72.909.694</div>
<div style="left:0px;top:525.31px;width:178.5px;height:23.29px;text-align:right;font-size:19px;line-height:23.29px;color:#333333;white-space:nowrap">31/12/2006</div>
<div style="left:183px;top:525.31px;width:129px;height:23.29px;text-align:right;font-size:19px;line-height:23.29px;color:#2c2c2c;white-space:nowrap">49.932.845</div>
<div style="left:316px;top:525.31px;width:129px;height:23.29px;text-align:right;font-size:19px;line-height:23.29px;color:#2c2c2c;white-space:nowrap">30.200.668</div>
<div style="left:449px;top:525.31px;width:128px;height:23.29px;text-align:right;font-size:19px;line-height:23.29px;color:#2c2c2c;white-space:nowrap">1.129.831</div>
<div style="left:599px;top:525.31px;width:129px;height:23.29px;text-align:right;font-size:19px;line-height:23.29px;color:#2c2c2c;white-space:nowrap">6.224.181</div>
<div style="left:732px;top:525.31px;width:129px;height:23.29px;text-align:right;font-size:19px;line-height:23.29px;color:#2c2c2c;white-space:nowrap">2.006.687</div>
<div style="left:865px;top:525.31px;width:128px;height:23.29px;text-align:right;font-size:19px;line-height:23.29px;color:#2c2c2c;white-space:nowrap">122.782</div>
<div style="left:1015px;top:525.31px;width:128px;height:23.29px;text-align:right;font-size:19px;line-height:23.29px;color:#2c2c2c;white-space:nowrap">8.353.650</div>
<div style="left:1147px;top:525.31px;width:130px;height:23.29px;text-align:right;font-size:19px;line-height:23.29px;color:#2c2c2c;white-space:nowrap">81.263.344</div>
<div style="left:0px;top:548.62px;width:178.5px;height:23.29px;text-align:right;font-size:19px;line-height:23.29px;color:#8a8a8a;white-space:nowrap">31/12/2007</div>
<div style="left:183px;top:548.62px;width:129px;height:23.29px;text-align:right;font-size:19px;line-height:23.29px;color:#2c2c2c;white-space:nowrap">54.211.374</div>
<div style="left:316px;top:548.62px;width:129px;height:23.29px;text-align:right;font-size:19px;line-height:23.29px;color:#2c2c2c;white-space:nowrap">30.430.485</div>
<div style="left:449px;top:548.62px;width:128px;height:23.29px;text-align:right;font-size:19px;line-height:23.29px;color:#2c2c2c;white-space:nowrap">1.193.098</div>
<div style="left:599px;top:548.62px;width:129px;height:23.29px;text-align:right;font-size:19px;line-height:23.29px;color:#2c2c2c;white-space:nowrap">4.278.529</div>
<div style="left:732px;top:548.62px;width:129px;height:23.29px;text-align:right;font-size:19px;line-height:23.29px;color:#2c2c2c;white-space:nowrap">229.817</div>
<div style="left:865px;top:548.62px;width:128px;height:23.29px;text-align:right;font-size:19px;line-height:23.29px;color:#2c2c2c;white-space:nowrap">63.267</div>
<div style="left:1015px;top:548.62px;width:128px;height:23.29px;text-align:right;font-size:19px;line-height:23.29px;color:#2c2c2c;white-space:nowrap">4.571.613</div>
<div style="left:1147px;top:548.62px;width:130px;height:23.29px;text-align:right;font-size:19px;line-height:23.29px;color:#2c2c2c;white-space:nowrap">85.834.957</div>
<div style="left:0px;top:571.94px;width:178.5px;height:23.29px;text-align:right;font-size:19px;line-height:23.29px;color:#333333;white-space:nowrap">31/12/2008</div>
<div style="left:183px;top:571.94px;width:129px;height:23.29px;text-align:right;font-size:19px;line-height:23.29px;color:#2c2c2c;white-space:nowrap">49.018.659</div>
<div style="left:316px;top:571.94px;width:129px;height:23.29px;text-align:right;font-size:19px;line-height:23.29px;color:#2c2c2c;white-space:nowrap">28.408.941</div>
<div style="left:449px;top:571.94px;width:128px;height:23.29px;text-align:right;font-size:19px;line-height:23.29px;color:#2c2c2c;white-space:nowrap">978.988</div>
<div style="left:599px;top:571.94px;width:129px;height:23.29px;text-align:right;font-size:19px;line-height:23.29px;color:#2c2c2c;white-space:nowrap">-5.192.715</div>
<div style="left:732px;top:571.94px;width:129px;height:23.29px;text-align:right;font-size:19px;line-height:23.29px;color:#2c2c2c;white-space:nowrap">-2.021.544</div>
<div style="left:865px;top:571.94px;width:128px;height:23.29px;text-align:right;font-size:19px;line-height:23.29px;color:#2c2c2c;white-space:nowrap">-214.110</div>
<div style="left:1015px;top:571.94px;width:128px;height:23.29px;text-align:right;font-size:19px;line-height:23.29px;color:#2c2c2c;white-space:nowrap">-7.428.369</div>
<div style="left:1147px;top:571.94px;width:130px;height:23.29px;text-align:right;font-size:19px;line-height:23.29px;color:#2c2c2c;white-space:nowrap">78.406.588</div>
<div style="left:0px;top:595.25px;width:178.5px;height:23.29px;text-align:right;font-size:19px;line-height:23.29px;color:#8a8a8a;white-space:nowrap">31/12/2009</div>
<div style="left:183px;top:595.25px;width:129px;height:23.29px;text-align:right;font-size:19px;line-height:23.29px;color:#2c2c2c;white-space:nowrap">53.227.993</div>
<div style="left:316px;top:595.25px;width:129px;height:23.29px;text-align:right;font-size:19px;line-height:23.29px;color:#2c2c2c;white-space:nowrap">30.783.761</div>
<div style="left:449px;top:595.25px;width:128px;height:23.29px;text-align:right;font-size:19px;line-height:23.29px;color:#2c2c2c;white-space:nowrap">992.242</div>
<div style="left:599px;top:595.25px;width:129px;height:23.29px;text-align:right;font-size:19px;line-height:23.29px;color:#2c2c2c;white-space:nowrap">4.209.334</div>
<div style="left:732px;top:595.25px;width:129px;height:23.29px;text-align:right;font-size:19px;line-height:23.29px;color:#2c2c2c;white-space:nowrap">2.374.820</div>
<div style="left:865px;top:595.25px;width:128px;height:23.29px;text-align:right;font-size:19px;line-height:23.29px;color:#2c2c2c;white-space:nowrap">13.254</div>
<div style="left:1015px;top:595.25px;width:128px;height:23.29px;text-align:right;font-size:19px;line-height:23.29px;color:#2c2c2c;white-space:nowrap">6.597.408</div>
<div style="left:1147px;top:595.25px;width:130px;height:23.29px;text-align:right;font-size:19px;line-height:23.29px;color:#2c2c2c;white-space:nowrap">85.003.996</div>
<div style="left:0px;top:618.57px;width:178.5px;height:23.29px;text-align:right;font-size:19px;line-height:23.29px;color:#333333;white-space:nowrap">31/12/2010</div>
<div style="left:183px;top:618.57px;width:129px;height:23.29px;text-align:right;font-size:19px;line-height:23.29px;color:#2c2c2c;white-space:nowrap">52.551.990</div>
<div style="left:316px;top:618.57px;width:129px;height:23.29px;text-align:right;font-size:19px;line-height:23.29px;color:#2c2c2c;white-space:nowrap">31.271.989</div>
<div style="left:449px;top:618.57px;width:128px;height:23.29px;text-align:right;font-size:19px;line-height:23.29px;color:#2c2c2c;white-space:nowrap">926.266</div>
<div style="left:599px;top:618.57px;width:129px;height:23.29px;text-align:right;font-size:19px;line-height:23.29px;color:#2c2c2c;white-space:nowrap">-676.003</div>
<div style="left:732px;top:618.57px;width:129px;height:23.29px;text-align:right;font-size:19px;line-height:23.29px;color:#2c2c2c;white-space:nowrap">488.227</div>
<div style="left:865px;top:618.57px;width:128px;height:23.29px;text-align:right;font-size:19px;line-height:23.29px;color:#2c2c2c;white-space:nowrap">-65.976</div>
<div style="left:1015px;top:618.57px;width:128px;height:23.29px;text-align:right;font-size:19px;line-height:23.29px;color:#2c2c2c;white-space:nowrap">-253.752</div>
<div style="left:1147px;top:618.57px;width:130px;height:23.29px;text-align:right;font-size:19px;line-height:23.29px;color:#2c2c2c;white-space:nowrap">84.750.244</div>
<div style="left:0px;top:641.88px;width:178.5px;height:23.29px;text-align:right;font-size:19px;line-height:23.29px;color:#8a8a8a;white-space:nowrap">31/12/2011</div>
<div style="left:183px;top:641.88px;width:129px;height:23.29px;text-align:right;font-size:19px;line-height:23.29px;color:#2c2c2c;white-space:nowrap">51.141.923</div>
<div style="left:316px;top:641.88px;width:129px;height:23.29px;text-align:right;font-size:19px;line-height:23.29px;color:#2c2c2c;white-space:nowrap">31.170.271</div>
<div style="left:449px;top:641.88px;width:128px;height:23.29px;text-align:right;font-size:19px;line-height:23.29px;color:#2c2c2c;white-space:nowrap">835.431</div>
<div style="left:599px;top:641.88px;width:129px;height:23.29px;text-align:right;font-size:19px;line-height:23.29px;color:#2c2c2c;white-space:nowrap">-1.410.066</div>
<div style="left:732px;top:641.88px;width:129px;height:23.29px;text-align:right;font-size:19px;line-height:23.29px;color:#2c2c2c;white-space:nowrap">-101.718</div>
<div style="left:865px;top:641.88px;width:128px;height:23.29px;text-align:right;font-size:19px;line-height:23.29px;color:#2c2c2c;white-space:nowrap">-90.835</div>
<div style="left:1015px;top:641.88px;width:128px;height:23.29px;text-align:right;font-size:19px;line-height:23.29px;color:#2c2c2c;white-space:nowrap">-1.602.619</div>
<div style="left:1147px;top:641.88px;width:130px;height:23.29px;text-align:right;font-size:19px;line-height:23.29px;color:#2c2c2c;white-space:nowrap">83.147.626</div>
<div style="left:0px;top:665.2px;width:178.5px;height:23.29px;text-align:right;font-size:19px;line-height:23.29px;color:#333333;white-space:nowrap">31/12/2012</div>
<div style="left:183px;top:665.2px;width:129px;height:23.29px;text-align:right;font-size:19px;line-height:23.29px;color:#2c2c2c;white-space:nowrap">53.159.828</div>
<div style="left:316px;top:665.2px;width:129px;height:23.29px;text-align:right;font-size:19px;line-height:23.29px;color:#2c2c2c;white-space:nowrap">32.572.448</div>
<div style="left:449px;top:665.2px;width:128px;height:23.29px;text-align:right;font-size:19px;line-height:23.29px;color:#2c2c2c;white-space:nowrap">795.453</div>
<div style="left:599px;top:665.2px;width:129px;height:23.29px;text-align:right;font-size:19px;line-height:23.29px;color:#2c2c2c;white-space:nowrap">2.017.904</div>
<div style="left:732px;top:665.2px;width:129px;height:23.29px;text-align:right;font-size:19px;line-height:23.29px;color:#2c2c2c;white-space:nowrap">1.402.177</div>
<div style="left:865px;top:665.2px;width:128px;height:23.29px;text-align:right;font-size:19px;line-height:23.29px;color:#2c2c2c;white-space:nowrap">-39.978</div>
<div style="left:1015px;top:665.2px;width:128px;height:23.29px;text-align:right;font-size:19px;line-height:23.29px;color:#2c2c2c;white-space:nowrap">3.380.103</div>
<div style="left:1147px;top:665.2px;width:130px;height:23.29px;text-align:right;font-size:19px;line-height:23.29px;color:#2c2c2c;white-space:nowrap">86.527.729</div>
<div style="left:0px;top:688.51px;width:178.5px;height:23.29px;text-align:right;font-size:19px;line-height:23.29px;color:#8a8a8a;white-space:nowrap">31/12/2013</div>
<div style="left:183px;top:688.51px;width:129px;height:23.29px;text-align:right;font-size:19px;line-height:23.29px;color:#2c2c2c;white-space:nowrap">57.953.934</div>
<div style="left:316px;top:688.51px;width:129px;height:23.29px;text-align:right;font-size:19px;line-height:23.29px;color:#2c2c2c;white-space:nowrap">33.814.833</div>
<div style="left:449px;top:688.51px;width:128px;height:23.29px;text-align:right;font-size:19px;line-height:23.29px;color:#2c2c2c;white-space:nowrap">1.000.782</div>
<div style="left:599px;top:688.51px;width:129px;height:23.29px;text-align:right;font-size:19px;line-height:23.29px;color:#2c2c2c;white-space:nowrap">4.794.106</div>
<div style="left:732px;top:688.51px;width:129px;height:23.29px;text-align:right;font-size:19px;line-height:23.29px;color:#2c2c2c;white-space:nowrap">1.242.385</div>
<div style="left:865px;top:688.51px;width:128px;height:23.29px;text-align:right;font-size:19px;line-height:23.29px;color:#2c2c2c;white-space:nowrap">205.328</div>
<div style="left:1015px;top:688.51px;width:128px;height:23.29px;text-align:right;font-size:19px;line-height:23.29px;color:#2c2c2c;white-space:nowrap">6.241.820</div>
<div style="left:1147px;top:688.51px;width:130px;height:23.29px;text-align:right;font-size:19px;line-height:23.29px;color:#2c2c2c;white-space:nowrap">92.769.549</div>
<div style="left:0px;top:711.83px;width:178.5px;height:23.29px;text-align:right;font-size:19px;line-height:23.29px;color:#333333;white-space:nowrap">31/12/2014</div>
<div style="left:183px;top:711.83px;width:129px;height:23.29px;text-align:right;font-size:19px;line-height:23.29px;color:#2c2c2c;white-space:nowrap">64.254.369</div>
<div style="left:316px;top:711.83px;width:129px;height:23.29px;text-align:right;font-size:19px;line-height:23.29px;color:#2c2c2c;white-space:nowrap">35.262.112</div>
<div style="left:449px;top:711.83px;width:128px;height:23.29px;text-align:right;font-size:19px;line-height:23.29px;color:#2c2c2c;white-space:nowrap">940.175</div>
<div style="left:599px;top:711.83px;width:129px;height:23.29px;text-align:right;font-size:19px;line-height:23.29px;color:#2c2c2c;white-space:nowrap">6.300.434</div>
<div style="left:732px;top:711.83px;width:129px;height:23.29px;text-align:right;font-size:19px;line-height:23.29px;color:#2c2c2c;white-space:nowrap">1.447.279</div>
<div style="left:865px;top:711.83px;width:128px;height:23.29px;text-align:right;font-size:19px;line-height:23.29px;color:#2c2c2c;white-space:nowrap">-60.607</div>
<div style="left:1015px;top:711.83px;width:128px;height:23.29px;text-align:right;font-size:19px;line-height:23.29px;color:#2c2c2c;white-space:nowrap">7.687.107</div>
<div style="left:1147px;top:711.83px;width:130px;height:23.29px;text-align:right;font-size:19px;line-height:23.29px;color:#2c2c2c;white-space:nowrap">100.456.655</div>
<div style="left:0px;top:735.14px;width:178.5px;height:23.29px;text-align:right;font-size:19px;line-height:23.29px;color:#8a8a8a;white-space:nowrap">31/12/2015</div>
<div style="left:183px;top:735.14px;width:129px;height:23.29px;text-align:right;font-size:19px;line-height:23.29px;color:#2c2c2c;white-space:nowrap">68.011.511</div>
<div style="left:316px;top:735.14px;width:129px;height:23.29px;text-align:right;font-size:19px;line-height:23.29px;color:#2c2c2c;white-space:nowrap">35.548.451</div>
<div style="left:449px;top:735.14px;width:128px;height:23.29px;text-align:right;font-size:19px;line-height:23.29px;color:#2c2c2c;white-space:nowrap">958.368</div>
<div style="left:599px;top:735.14px;width:129px;height:23.29px;text-align:right;font-size:19px;line-height:23.29px;color:#2c2c2c;white-space:nowrap">3.757.142</div>
<div style="left:732px;top:735.14px;width:129px;height:23.29px;text-align:right;font-size:19px;line-height:23.29px;color:#2c2c2c;white-space:nowrap">286.339</div>
<div style="left:865px;top:735.14px;width:128px;height:23.29px;text-align:right;font-size:19px;line-height:23.29px;color:#2c2c2c;white-space:nowrap">18.193</div>
<div style="left:1015px;top:735.14px;width:128px;height:23.29px;text-align:right;font-size:19px;line-height:23.29px;color:#2c2c2c;white-space:nowrap">4.061.674</div>
<div style="left:1147px;top:735.14px;width:130px;height:23.29px;text-align:right;font-size:19px;line-height:23.29px;color:#2c2c2c;white-space:nowrap">104.518.329</div>
<div style="left:0px;top:758.46px;width:178.5px;height:23.29px;text-align:right;font-size:19px;line-height:23.29px;color:#333333;white-space:nowrap">31/12/2016</div>
<div style="left:183px;top:758.46px;width:129px;height:23.29px;text-align:right;font-size:19px;line-height:23.29px;color:#2c2c2c;white-space:nowrap">70.487.405</div>
<div style="left:316px;top:758.46px;width:129px;height:23.29px;text-align:right;font-size:19px;line-height:23.29px;color:#2c2c2c;white-space:nowrap">35.436.955</div>
<div style="left:449px;top:758.46px;width:128px;height:23.29px;text-align:right;font-size:19px;line-height:23.29px;color:#2c2c2c;white-space:nowrap">920.628</div>
<div style="left:599px;top:758.46px;width:129px;height:23.29px;text-align:right;font-size:19px;line-height:23.29px;color:#2c2c2c;white-space:nowrap">2.475.894</div>
<div style="left:732px;top:758.46px;width:129px;height:23.29px;text-align:right;font-size:19px;line-height:23.29px;color:#2c2c2c;white-space:nowrap">-111.495</div>
<div style="left:865px;top:758.46px;width:128px;height:23.29px;text-align:right;font-size:19px;line-height:23.29px;color:#2c2c2c;white-space:nowrap">-37.740</div>
<div style="left:1015px;top:758.46px;width:128px;height:23.29px;text-align:right;font-size:19px;line-height:23.29px;color:#2c2c2c;white-space:nowrap">2.326.659</div>
<div style="left:1147px;top:758.46px;width:130px;height:23.29px;text-align:right;font-size:19px;line-height:23.29px;color:#2c2c2c;white-space:nowrap">106.844.988</div>
<div style="left:0px;top:781.77px;width:178.5px;height:23.29px;text-align:right;font-size:19px;line-height:23.29px;color:#8a8a8a;white-space:nowrap">31/12/2017</div>
<div style="left:183px;top:781.77px;width:129px;height:23.29px;text-align:right;font-size:19px;line-height:23.29px;color:#2c2c2c;white-space:nowrap">74.377.839</div>
<div style="left:316px;top:781.77px;width:129px;height:23.29px;text-align:right;font-size:19px;line-height:23.29px;color:#2c2c2c;white-space:nowrap">35.682.768</div>
<div style="left:449px;top:781.77px;width:128px;height:23.29px;text-align:right;font-size:19px;line-height:23.29px;color:#2c2c2c;white-space:nowrap">902.533</div>
<div style="left:599px;top:781.77px;width:129px;height:23.29px;text-align:right;font-size:19px;line-height:23.29px;color:#2c2c2c;white-space:nowrap">3.890.434</div>
<div style="left:732px;top:781.77px;width:129px;height:23.29px;text-align:right;font-size:19px;line-height:23.29px;color:#2c2c2c;white-space:nowrap">245.812</div>
<div style="left:865px;top:781.77px;width:128px;height:23.29px;text-align:right;font-size:19px;line-height:23.29px;color:#2c2c2c;white-space:nowrap">-18.095</div>
<div style="left:1015px;top:781.77px;width:128px;height:23.29px;text-align:right;font-size:19px;line-height:23.29px;color:#2c2c2c;white-space:nowrap">4.118.152</div>
<div style="left:1147px;top:781.77px;width:130px;height:23.29px;text-align:right;font-size:19px;line-height:23.29px;color:#2c2c2c;white-space:nowrap">110.963.140</div>
<div style="left:0px;top:805.08px;width:178.5px;height:23.29px;text-align:right;font-size:19px;line-height:23.29px;color:#333333;white-space:nowrap">31/12/2018</div>
<div style="left:183px;top:805.08px;width:129px;height:23.29px;text-align:right;font-size:19px;line-height:23.29px;color:#2c2c2c;white-space:nowrap">72.247.343</div>
<div style="left:316px;top:805.08px;width:129px;height:23.29px;text-align:right;font-size:19px;line-height:23.29px;color:#2c2c2c;white-space:nowrap">33.809.674</div>
<div style="left:449px;top:805.08px;width:128px;height:23.29px;text-align:right;font-size:19px;line-height:23.29px;color:#2c2c2c;white-space:nowrap">828.696</div>
<div style="left:599px;top:805.08px;width:129px;height:23.29px;text-align:right;font-size:19px;line-height:23.29px;color:#2c2c2c;white-space:nowrap">-2.130.496</div>
<div style="left:732px;top:805.08px;width:129px;height:23.29px;text-align:right;font-size:19px;line-height:23.29px;color:#2c2c2c;white-space:nowrap">-1.873.093</div>
<div style="left:865px;top:805.08px;width:128px;height:23.29px;text-align:right;font-size:19px;line-height:23.29px;color:#2c2c2c;white-space:nowrap">-73.838</div>
<div style="left:1015px;top:805.08px;width:128px;height:23.29px;text-align:right;font-size:19px;line-height:23.29px;color:#2c2c2c;white-space:nowrap">-4.077.427</div>
<div style="left:1147px;top:805.08px;width:130px;height:23.29px;text-align:right;font-size:19px;line-height:23.29px;color:#2c2c2c;white-space:nowrap">106.885.713</div>
<div style="left:0px;top:828.4px;width:178.5px;height:23.29px;text-align:right;font-size:19px;line-height:23.29px;color:#8a8a8a;white-space:nowrap">31/12/2019</div>
<div style="left:183px;top:828.4px;width:129px;height:23.29px;text-align:right;font-size:19px;line-height:23.29px;color:#2c2c2c;white-space:nowrap">78.466.015</div>
<div style="left:316px;top:828.4px;width:129px;height:23.29px;text-align:right;font-size:19px;line-height:23.29px;color:#2c2c2c;white-space:nowrap">35.710.098</div>
<div style="left:449px;top:828.4px;width:128px;height:23.29px;text-align:right;font-size:19px;line-height:23.29px;color:#2c2c2c;white-space:nowrap">858.584</div>
<div style="left:599px;top:828.4px;width:129px;height:23.29px;text-align:right;font-size:19px;line-height:23.29px;color:#2c2c2c;white-space:nowrap">6.218.672</div>
<div style="left:732px;top:828.4px;width:129px;height:23.29px;text-align:right;font-size:19px;line-height:23.29px;color:#2c2c2c;white-space:nowrap">1.900.424</div>
<div style="left:865px;top:828.4px;width:128px;height:23.29px;text-align:right;font-size:19px;line-height:23.29px;color:#2c2c2c;white-space:nowrap">29.888</div>
<div style="left:1015px;top:828.4px;width:128px;height:23.29px;text-align:right;font-size:19px;line-height:23.29px;color:#2c2c2c;white-space:nowrap">8.148.984</div>
<div style="left:1147px;top:828.4px;width:130px;height:23.29px;text-align:right;font-size:19px;line-height:23.29px;color:#2c2c2c;white-space:nowrap">115.034.697</div>
<div style="left:0px;top:851.71px;width:178.5px;height:23.29px;text-align:right;font-size:19px;line-height:23.29px;color:#333333;white-space:nowrap">31/12/2020</div>
<div style="left:183px;top:851.71px;width:129px;height:23.29px;text-align:right;font-size:19px;line-height:23.29px;color:#2c2c2c;white-space:nowrap">80.518.547</div>
<div style="left:316px;top:851.71px;width:129px;height:23.29px;text-align:right;font-size:19px;line-height:23.29px;color:#2c2c2c;white-space:nowrap">35.681.219</div>
<div style="left:449px;top:851.71px;width:128px;height:23.29px;text-align:right;font-size:19px;line-height:23.29px;color:#2c2c2c;white-space:nowrap">827.191</div>
<div style="left:599px;top:851.71px;width:129px;height:23.29px;text-align:right;font-size:19px;line-height:23.29px;color:#2c2c2c;white-space:nowrap">2.052.532</div>
<div style="left:732px;top:851.71px;width:129px;height:23.29px;text-align:right;font-size:19px;line-height:23.29px;color:#2c2c2c;white-space:nowrap">-28.879</div>
<div style="left:865px;top:851.71px;width:128px;height:23.29px;text-align:right;font-size:19px;line-height:23.29px;color:#2c2c2c;white-space:nowrap">-31.393</div>
<div style="left:1015px;top:851.71px;width:128px;height:23.29px;text-align:right;font-size:19px;line-height:23.29px;color:#2c2c2c;white-space:nowrap">1.992.260</div>
<div style="left:1147px;top:851.71px;width:130px;height:23.29px;text-align:right;font-size:19px;line-height:23.29px;color:#2c2c2c;white-space:nowrap">117.026.957</div>
<div style="left:0px;top:875.03px;width:178.5px;height:23.29px;text-align:right;font-size:19px;line-height:23.29px;color:#8a8a8a;white-space:nowrap">31/12/2021</div>
<div style="left:183px;top:875.03px;width:129px;height:23.29px;text-align:right;font-size:19px;line-height:23.29px;color:#2c2c2c;white-space:nowrap">87.571.051</div>
<div style="left:316px;top:875.03px;width:129px;height:23.29px;text-align:right;font-size:19px;line-height:23.29px;color:#2c2c2c;white-space:nowrap">37.792.143</div>
<div style="left:449px;top:875.03px;width:128px;height:23.29px;text-align:right;font-size:19px;line-height:23.29px;color:#2c2c2c;white-space:nowrap">882.862</div>
<div style="left:599px;top:875.03px;width:129px;height:23.29px;text-align:right;font-size:19px;line-height:23.29px;color:#2c2c2c;white-space:nowrap">7.052.504</div>
<div style="left:732px;top:875.03px;width:129px;height:23.29px;text-align:right;font-size:19px;line-height:23.29px;color:#2c2c2c;white-space:nowrap">2.110.924</div>
<div style="left:865px;top:875.03px;width:128px;height:23.29px;text-align:right;font-size:19px;line-height:23.29px;color:#2c2c2c;white-space:nowrap">55.671</div>
<div style="left:1015px;top:875.03px;width:128px;height:23.29px;text-align:right;font-size:19px;line-height:23.29px;color:#2c2c2c;white-space:nowrap">9.219.099</div>
<div style="left:1147px;top:875.03px;width:130px;height:23.29px;text-align:right;font-size:19px;line-height:23.29px;color:#2c2c2c;white-space:nowrap">126.246.056</div>
<div style="left:0px;top:898.34px;width:178.5px;height:23.29px;text-align:right;font-size:19px;line-height:23.29px;color:#333333;white-space:nowrap">31/12/2022</div>
<div style="left:183px;top:898.34px;width:129px;height:23.29px;text-align:right;font-size:19px;line-height:23.29px;color:#2c2c2c;white-space:nowrap">78.580.784</div>
<div style="left:316px;top:898.34px;width:129px;height:23.29px;text-align:right;font-size:19px;line-height:23.29px;color:#2c2c2c;white-space:nowrap">34.633.970</div>
<div style="left:449px;top:898.34px;width:128px;height:23.29px;text-align:right;font-size:19px;line-height:23.29px;color:#2c2c2c;white-space:nowrap">779.163</div>
<div style="left:599px;top:898.34px;width:129px;height:23.29px;text-align:right;font-size:19px;line-height:23.29px;color:#2c2c2c;white-space:nowrap">-8.990.267</div>
<div style="left:732px;top:898.34px;width:129px;height:23.29px;text-align:right;font-size:19px;line-height:23.29px;color:#2c2c2c;white-space:nowrap">-3.158.173</div>
<div style="left:865px;top:898.34px;width:128px;height:23.29px;text-align:right;font-size:19px;line-height:23.29px;color:#2c2c2c;white-space:nowrap">-103.699</div>
<div style="left:1015px;top:898.34px;width:128px;height:23.29px;text-align:right;font-size:19px;line-height:23.29px;color:#2c2c2c;white-space:nowrap">-10.599.752</div>
<div style="left:1147px;top:898.34px;width:130px;height:23.29px;text-align:right;font-size:19px;line-height:23.29px;color:#2c2c2c;white-space:nowrap">113.993.917</div>
<div style="left:0px;top:921.66px;width:178.5px;height:23.29px;text-align:right;font-size:19px;line-height:23.29px;color:#333333;white-space:nowrap">31/12/2023</div>
<div style="left:183px;top:921.66px;width:129px;height:23.29px;text-align:right;font-size:19px;line-height:23.29px;color:#2c2c2c;white-space:nowrap">84.922.875</div>
<div style="left:316px;top:921.66px;width:129px;height:23.29px;text-align:right;font-size:19px;line-height:23.29px;color:#2c2c2c;white-space:nowrap">36.669.893</div>
<div style="left:449px;top:921.66px;width:128px;height:23.29px;text-align:right;font-size:19px;line-height:23.29px;color:#2c2c2c;white-space:nowrap">792.452</div>
<div style="left:599px;top:921.66px;width:129px;height:23.29px;text-align:right;font-size:19px;line-height:23.29px;color:#2c2c2c;white-space:nowrap">6.342.091</div>
<div style="left:732px;top:921.66px;width:129px;height:23.29px;text-align:right;font-size:19px;line-height:23.29px;color:#2c2c2c;white-space:nowrap">2.035.923</div>
<div style="left:865px;top:921.66px;width:128px;height:23.29px;text-align:right;font-size:19px;line-height:23.29px;color:#2c2c2c;white-space:nowrap">13.289</div>
<div style="left:1015px;top:921.66px;width:128px;height:23.29px;text-align:right;font-size:19px;line-height:23.29px;color:#2c2c2c;white-space:nowrap">8.391.303</div>
<div style="left:1147px;top:921.66px;width:130px;height:23.29px;text-align:right;font-size:19px;line-height:23.29px;color:#2c2c2c;white-space:nowrap">122.385.220</div>
<div style="left:0px;top:944.97px;width:178.5px;height:23.29px;text-align:right;font-size:19px;line-height:23.29px;color:#8a8a8a;white-space:nowrap">31/03/2024</div>
<div style="left:183px;top:944.97px;width:129px;height:23.29px;text-align:right;font-size:19px;line-height:23.29px;color:#2c2c2c;white-space:nowrap">88.110.172</div>
<div style="left:316px;top:944.97px;width:129px;height:23.29px;text-align:right;font-size:19px;line-height:23.29px;color:#2c2c2c;white-space:nowrap">37.233.831</div>
<div style="left:449px;top:944.97px;width:128px;height:23.29px;text-align:right;font-size:19px;line-height:23.29px;color:#2c2c2c;white-space:nowrap">805.155</div>
<div style="left:599px;top:944.97px;width:129px;height:23.29px;text-align:right;font-size:19px;line-height:23.29px;color:#2c2c2c;white-space:nowrap">3.187.297</div>
<div style="left:732px;top:944.97px;width:129px;height:23.29px;text-align:right;font-size:19px;line-height:23.29px;color:#2c2c2c;white-space:nowrap">563.938</div>
<div style="left:865px;top:944.97px;width:128px;height:23.29px;text-align:right;font-size:19px;line-height:23.29px;color:#2c2c2c;white-space:nowrap">12.703</div>
<div style="left:1015px;top:944.97px;width:128px;height:23.29px;text-align:right;font-size:19px;line-height:23.29px;color:#2c2c2c;white-space:nowrap">3.763.938</div>
<div style="left:1147px;top:944.97px;width:130px;height:23.29px;text-align:right;font-size:19px;line-height:23.29px;color:#2c2c2c;white-space:nowrap">126.149.158</div>
<div style="left:0px;top:968.29px;width:178.5px;height:23.29px;text-align:right;font-size:19px;line-height:23.29px;color:#333333;white-space:nowrap">30/06/2024</div>
<div style="left:183px;top:968.29px;width:129px;height:23.29px;text-align:right;font-size:19px;line-height:23.29px;color:#2c2c2c;white-space:nowrap">89.107.530</div>
<div style="left:316px;top:968.29px;width:129px;height:23.29px;text-align:right;font-size:19px;line-height:23.29px;color:#2c2c2c;white-space:nowrap">37.595.554</div>
<div style="left:449px;top:968.29px;width:128px;height:23.29px;text-align:right;font-size:19px;line-height:23.29px;color:#2c2c2c;white-space:nowrap">801.916</div>
<div style="left:599px;top:968.29px;width:129px;height:23.29px;text-align:right;font-size:19px;line-height:23.29px;color:#2c2c2c;white-space:nowrap">997.358</div>
<div style="left:732px;top:968.29px;width:129px;height:23.29px;text-align:right;font-size:19px;line-height:23.29px;color:#2c2c2c;white-space:nowrap">361.723</div>
<div style="left:865px;top:968.29px;width:128px;height:23.29px;text-align:right;font-size:19px;line-height:23.29px;color:#2c2c2c;white-space:nowrap">-3.239</div>
<div style="left:1015px;top:968.29px;width:128px;height:23.29px;text-align:right;font-size:19px;line-height:23.29px;color:#2c2c2c;white-space:nowrap">1.355.843</div>
<div style="left:1147px;top:968.29px;width:130px;height:23.29px;text-align:right;font-size:19px;line-height:23.29px;color:#2c2c2c;white-space:nowrap">127.505.001</div>
<div style="left:182px;top:1017px;width:400px;height:25px;background:#06336a"></div>
<div style="left:598px;top:1017px;width:400px;height:25px;background:#06336a"></div>
<div style="left:1014px;top:1017px;width:268px;height:25px;background:#06336a"></div>
<div style="left:0px;top:1017px;width:178.5px;height:25px;text-align:right;font-weight:bold;font-size:19px;line-height:25px;color:#2c4a6e;white-space:nowrap;-webkit-text-stroke:0.15px currentColor">30/09/2024</div>
<div style="left:183px;top:1017px;width:129px;height:25px;text-align:right;font-weight:bold;font-size:19px;letter-spacing:0.25px;line-height:25px;color:#f2f6fb;white-space:nowrap;-webkit-text-stroke:0.1px currentColor">90.805.117</div>
<div style="left:316px;top:1017px;width:129px;height:25px;text-align:right;font-weight:bold;font-size:19px;letter-spacing:0.25px;line-height:25px;color:#f2f6fb;white-space:nowrap;-webkit-text-stroke:0.1px currentColor">38.488.307</div>
<div style="left:449px;top:1017px;width:128px;height:25px;text-align:right;font-weight:bold;font-size:19px;letter-spacing:0.25px;line-height:25px;color:#f2f6fb;white-space:nowrap;-webkit-text-stroke:0.1px currentColor">817.459</div>
<div style="left:599px;top:1017px;width:129px;height:25px;text-align:right;font-weight:bold;font-size:19px;letter-spacing:0.25px;line-height:25px;color:#f2f6fb;white-space:nowrap;-webkit-text-stroke:0.1px currentColor">1.697.587</div>
<div style="left:732px;top:1017px;width:129px;height:25px;text-align:right;font-weight:bold;font-size:19px;letter-spacing:0.25px;line-height:25px;color:#f2f6fb;white-space:nowrap;-webkit-text-stroke:0.1px currentColor">892.753</div>
<div style="left:865px;top:1017px;width:128px;height:25px;text-align:right;font-weight:bold;font-size:19px;letter-spacing:0.25px;line-height:25px;color:#f2f6fb;white-space:nowrap;-webkit-text-stroke:0.1px currentColor">15.543</div>
<div style="left:1015px;top:1017px;width:128px;height:25px;text-align:right;font-weight:bold;font-size:19px;letter-spacing:0.25px;line-height:25px;color:#f2f6fb;white-space:nowrap;-webkit-text-stroke:0.1px currentColor">2.605.882</div>
<div style="left:1147px;top:1017px;width:130px;height:25px;text-align:right;font-weight:bold;font-size:19px;letter-spacing:0.25px;line-height:25px;color:#f2f6fb;white-space:nowrap;-webkit-text-stroke:0.1px currentColor">130.110.883</div>
<div style="left:182px;top:1063px;width:400px;height:2px;background:#1e1e1e"></div>
<div style="left:182px;top:1087px;width:400px;height:2px;background:#333"></div>
<div style="left:182px;top:1110px;width:400px;height:2px;background:#3a3a3a"></div>
<div style="left:598px;top:1063px;width:400px;height:2px;background:#1e1e1e"></div>
<div style="left:598px;top:1087px;width:400px;height:2px;background:#333"></div>
<div style="left:598px;top:1110px;width:400px;height:2px;background:#3a3a3a"></div>
<div style="left:1014px;top:1063px;width:268px;height:2px;background:#1e1e1e"></div>
<div style="left:1014px;top:1087px;width:268px;height:2px;background:#333"></div>
<div style="left:1014px;top:1110px;width:268px;height:2px;background:#3a3a3a"></div>
<div style="left:182px;top:1063px;width:2px;height:49px;background:#262626"></div>
<div style="left:315px;top:1063px;width:2px;height:49px;background:#262626"></div>
<div style="left:448px;top:1063px;width:2px;height:49px;background:#262626"></div>
<div style="left:580px;top:1063px;width:2px;height:49px;background:#262626"></div>
<div style="left:598px;top:1063px;width:2px;height:49px;background:#262626"></div>
<div style="left:731px;top:1063px;width:2px;height:49px;background:#262626"></div>
<div style="left:864px;top:1063px;width:2px;height:49px;background:#262626"></div>
<div style="left:996px;top:1063px;width:2px;height:49px;background:#262626"></div>
<div style="left:1014px;top:1063px;width:2px;height:49px;background:#262626"></div>
<div style="left:1146px;top:1063px;width:2px;height:49px;background:#262626"></div>
<div style="left:1280px;top:1063px;width:2px;height:49px;background:#262626"></div>
<div style="left:0px;top:1067px;width:177px;height:22px;text-align:right;font-weight:bold;font-style:italic;font-size:17.1px;line-height:22px;color:#2c2c2c;white-space:nowrap">Variac. Año 2024 (%)</div>
<div style="left:183px;top:1066px;width:128px;height:22px;text-align:right;font-size:19px;line-height:22px;color:#2c2c2c;white-space:nowrap">6,93%</div>
<div style="left:316px;top:1066px;width:128px;height:22px;text-align:right;font-size:19px;line-height:22px;color:#2c2c2c;white-space:nowrap">4,96%</div>
<div style="left:449px;top:1066px;width:127px;height:22px;text-align:right;font-size:19px;line-height:22px;color:#2c2c2c;white-space:nowrap">3,16%</div>
<div style="left:599px;top:1066px;width:128px;height:22px;text-align:right;font-size:19px;line-height:22px;color:#2c2c2c;white-space:nowrap">5.882.242</div>
<div style="left:732px;top:1066px;width:128px;height:22px;text-align:right;font-size:19px;line-height:22px;color:#2c2c2c;white-space:nowrap">1.818.414</div>
<div style="left:865px;top:1066px;width:127px;height:22px;text-align:right;font-size:19px;line-height:22px;color:#2c2c2c;white-space:nowrap">25.007</div>
<div style="left:1015px;top:1066px;width:127px;height:22px;text-align:right;font-weight:bold;-webkit-text-stroke:0.1px currentColor;font-size:19px;line-height:22px;color:#2c2c2c;white-space:nowrap">7.725.663</div>
<div style="left:1147px;top:1066px;width:129px;height:22px;text-align:right;font-weight:bold;-webkit-text-stroke:0.1px currentColor;font-size:19px;line-height:22px;color:#2c2c2c;white-space:nowrap">6,31%</div>
<div style="left:0px;top:1089.5px;width:177px;height:21px;text-align:right;font-weight:bold;font-style:italic;font-size:17.1px;line-height:21px;color:#2c2c2c;white-space:nowrap">Variac. 12 meses (%)</div>
<div style="left:183px;top:1089px;width:128px;height:21px;text-align:right;font-size:19px;line-height:21px;color:#2c2c2c;white-space:nowrap">11,52%</div>
<div style="left:316px;top:1089px;width:128px;height:21px;text-align:right;font-size:19px;line-height:21px;color:#2c2c2c;white-space:nowrap">8,97%</div>
<div style="left:449px;top:1089px;width:127px;height:21px;text-align:right;font-size:19px;line-height:21px;color:#2c2c2c;white-space:nowrap">5,63%</div>
<div style="left:599px;top:1089px;width:128px;height:21px;text-align:right;font-size:19px;line-height:21px;color:#2c2c2c;white-space:nowrap">9.380.334</div>
<div style="left:732px;top:1089px;width:128px;height:21px;text-align:right;font-size:19px;line-height:21px;color:#2c2c2c;white-space:nowrap">3.168.193</div>
<div style="left:865px;top:1089px;width:127px;height:21px;text-align:right;font-size:19px;line-height:21px;color:#2c2c2c;white-space:nowrap">43.581</div>
<div style="left:1015px;top:1089px;width:127px;height:21px;text-align:right;font-weight:bold;-webkit-text-stroke:0.1px currentColor;font-size:19px;line-height:21px;color:#2c2c2c;white-space:nowrap">12.592.108</div>
<div style="left:1147px;top:1089px;width:129px;height:21px;text-align:right;font-weight:bold;-webkit-text-stroke:0.1px currentColor;font-size:19px;line-height:21px;color:#2c2c2c;white-space:nowrap">10,71%</div>
</div></body></html>
